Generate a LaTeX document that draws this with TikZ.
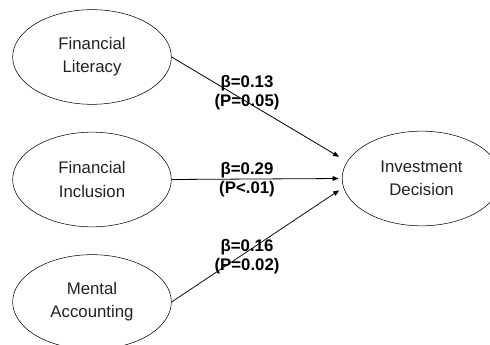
\documentclass[tikz,border=0pt]{standalone}
\usepackage{fontspec}
\setmainfont{Liberation Sans}
\usetikzlibrary{arrows,arrows.meta,positioning,shapes.geometric}
\definecolor{textgray}{rgb}{0.13, 0.13, 0.13}

\begin{document}
\begin{tikzpicture}[%
    x=0.75pt, y=-0.75pt,        % pixel-like units, y going down
    >={Triangle[length=4.5pt,width=3.6pt]},
    ]

\tikzset{
  % latent variables drawn as ellipses
  var/.style={draw, ellipse, inner sep=0pt, minimum width=119pt, minimum height=71pt,
    align=center, text=textgray, font={\fontsize{12.6}{17.3}\selectfont}},
  % path coefficients
  coef/.style={align=center, font={\fontsize{12.6}{14.3}\selectfont\bfseries}},
  path/.style={->, draw, line width=0.6pt, shorten >=2.5pt}
}

  \useasboundingbox (0,0) rectangle (490,345);

  \node[var] (lit) at (92,57) {Financial\\Literacy};
  \node[var] (inc) at (92,179.5) {Financial\\Inclusion};
  \node[var] (acc) at (92,302) {Mental\\Accounting};
  \node[var] (inv) at (421.5,178.5) {Investment\\Decision};

  % arrows into the dependent variable
  \draw[path] (lit.east) -- ([yshift=15pt]inv.west);
  \draw[path] (inc.east) -- ([yshift=0pt]inv.west);
  \draw[path] (acc.east) -- ([yshift=-7.5pt]inv.west);

  \node[coef] (b_lit) at (247,92.5) {β=0.13\\(P=0.05)};
  \node[coef] (b_inc) at (247,179.5) {β=0.29\\(P<.01)};
  \node[coef] (b_acc) at (247,257) {β=0.16\\(P=0.02)};
\end{tikzpicture}
\end{document}
